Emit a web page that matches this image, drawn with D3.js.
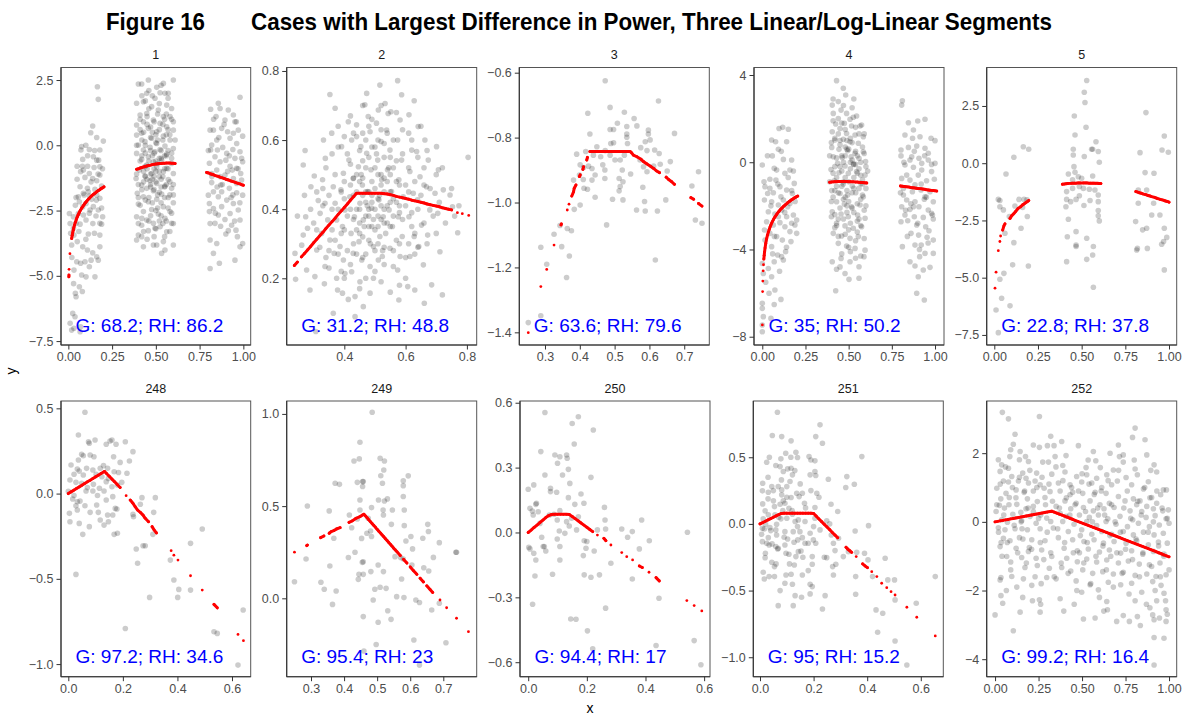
<!DOCTYPE html>
<html>
<head>
<meta charset="utf-8">
<script src="https://cdn.jsdelivr.net/npm/d3@7"></script>
<style>
  body { margin: 0; background: #fff; }
  svg text { font-family: "Liberation Sans", Arial, sans-serif; }
</style>
</head>
<body>
<svg id="chart" width="1183" height="715"></svg>
<script>
// ---- facet identifiers and power scores ----
const panelIds = ["1", "2", "3", "4", "5", "248", "249", "250", "251", "252"];
const gScore  = [68.2, 31.2, 63.6, 35, 22.8, 97.2, 95.4, 94.4, 95, 99.2];
const rhScore = [86.2, 48.8, 79.6, 50.2, 37.8, 34.6, 23, 17, 15.2, 16.4];

// ---- tick values and labels per facet ----
const xTickVals = [
  [0, 0.25, 0.5, 0.75, 1], [0.4, 0.6, 0.8], [0.3, 0.4, 0.5, 0.6, 0.7],
  [0, 0.25, 0.5, 0.75, 1], [0, 0.25, 0.5, 0.75, 1],
  [0, 0.2, 0.4, 0.6], [0.3, 0.4, 0.5, 0.6, 0.7], [0, 0.2, 0.4, 0.6],
  [0, 0.2, 0.4, 0.6], [0, 0.25, 0.5, 0.75, 1]
];
const xTickLabels = [
  ["0.00", "0.25", "0.50", "0.75", "1.00"], ["0.4", "0.6", "0.8"], ["0.3", "0.4", "0.5", "0.6", "0.7"],
  ["0.00", "0.25", "0.50", "0.75", "1.00"], ["0.00", "0.25", "0.50", "0.75", "1.00"],
  ["0.0", "0.2", "0.4", "0.6"], ["0.3", "0.4", "0.5", "0.6", "0.7"], ["0.0", "0.2", "0.4", "0.6"],
  ["0.0", "0.2", "0.4", "0.6"], ["0.00", "0.25", "0.50", "0.75", "1.00"]
];
const yTickVals = [
  [2.5, 0, -2.5, -5, -7.5], [0.2, 0.4, 0.6, 0.8], [-0.6, -0.8, -1.0, -1.2, -1.4],
  [4, 0, -4, -8], [2.5, 0, -2.5, -5, -7.5],
  [0.5, 0, -0.5, -1.0], [1.0, 0.5, 0.0], [0.6, 0.3, 0, -0.3, -0.6],
  [0.5, 0, -0.5, -1.0], [2, 0, -2, -4]
];
const yTickLabels = [
  ["2.5", "0.0", "\u22122.5", "\u22125.0", "\u22127.5"], ["0.2", "0.4", "0.6", "0.8"],
  ["\u22120.6", "\u22120.8", "\u22121.0", "\u22121.2", "\u22121.4"],
  ["4", "0", "\u22124", "\u22128"], ["2.5", "0.0", "\u22122.5", "\u22125.0", "\u22127.5"],
  ["0.5", "0.0", "\u22120.5", "\u22121.0"], ["1.0", "0.5", "0.0"],
  ["0.6", "0.3", "0.0", "\u22120.3", "\u22120.6"],
  ["0.5", "0.0", "\u22120.5", "\u22121.0"], ["2", "0", "\u22122", "\u22124"]
];

// ---- observations (x, y) per facet ----
const p1Points = [
 [0.166,2.24],[0.171,1.76],[0.139,0.74],[0.128,0.48],[0.162,0.30],[0.2,0.16],[0.076,-0.05],[0.072,-0.18],[0.10,0.0],[0.12,-0.16],
 [0.18,-0.18],[0.082,-0.54],[0.173,-0.57],[0.05,-0.8],[0.11,-0.8],[0.086,-0.95],[0.147,-0.85],[0.18,-0.82],[0.12,-1.08],[0.095,-1.23],
 [0.139,-1.27],[0.18,-1.14],[0.162,-1.36],[0.109,-1.65],[0.067,-1.59],[0.152,-1.69],[0.19,-1.56],[0.044,-2.0],[0.057,-1.97],[0.063,-2.16],
 [0.082,-2.35],[0.101,-2.23],[0.12,-1.94],[0.133,-2.07],[0.162,-1.91],[0.18,-2.03],[0.171,-2.48],[0.196,-2.74],[0.158,-2.71],[0.124,-2.48],
 [0.006,-2.61],[0.029,-2.74],[0.044,-2.99],[0.067,-3.02],[0.101,-2.86],[0.18,-2.99],[0.19,-3.02],[0.149,-3.37],[0.18,-3.44],[0.114,-3.4],
 [0.032,-3.44],[0.051,-3.69],[0.019,-3.82],[0.082,-3.89],[0.109,-4.01],[0.162,-4.27],[0.139,-4.12],[0.12,-4.65],[0.095,-4.46],[0.07,-4.52],
 [0.048,-4.46],[0.032,-4.78],[0.076,-4.97],[0.152,-5.04],[0.101,-5.04],[0.063,-5.42],[0.04,-5.67],[0.044,-5.8],[0.025,-6.44],[0.038,-6.57],
 [0.01,-6.82],[0.032,-7.01],[0.067,-7.14],[0.07,-6.95],[0.019,-7.08],[0.057,-2.61],[0.086,-2.67],[0.143,-2.35],[0.114,-1.78],[0.086,-1.84],
 [0.07,-1.01],[0.162,-0.57],[0.143,-0.44],[0.029,-3.18],[0.013,-3.37],[0.18,-3.89],[0.171,-4.4],
 [0.01,-3.0],[0.02,-4.3],[0.04,-2.3],[0.05,-1.3],[0.06,-3.3],[0.08,-0.8],[0.09,-1.9],[0.10,-3.6],[0.11,-0.4],[0.12,-2.6],
 [0.13,-1.4],[0.14,-3.0],[0.15,-0.2],[0.16,-2.1],[0.17,-1.1],[0.19,-2.4],[0.195,-0.9],[0.03,-5.3],[0.08,-5.6],[0.13,-4.4],
 [0.40,2.35],[0.419,2.35],[0.457,2.5],[0.505,2.22],[0.543,2.37],[0.6,2.5],[0.571,1.99],[0.552,1.99],[0.524,2.01],[0.448,1.99],
 [0.495,1.8],[0.429,1.67],[0.39,1.61],[0.476,1.48],[0.562,1.54],[0.59,1.41],[0.514,1.35],[0.448,1.22],[0.41,1.16],[0.543,1.1],
 [0.581,1.1],[0.486,0.97],[0.429,0.9],[0.524,0.84],[0.39,0.78],[0.562,0.71],[0.457,0.65],[0.6,0.58],[0.505,0.52],[0.419,0.46],
 [0.39,0.39],[0.543,0.35],[0.476,0.27],[0.581,0.2],[0.438,0.14],[0.505,0.07],[0.4,0.01],[0.552,-0.03],[0.467,-0.08],[0.6,-0.12],
 [0.429,-0.18],[0.524,-0.16],[0.495,-0.25],[0.39,-0.31],[0.562,-0.34],[0.457,-0.44],[0.59,-0.5],[0.419,-0.54],[0.533,-0.57],[0.486,-0.63],
 [0.448,-0.76],[0.505,-0.82],[0.562,-0.88],[0.406,-0.95],[0.543,-1.01],[0.476,-1.08],[0.6,-1.08],[0.438,-1.18],[0.52,-1.2],[0.387,-1.27],
 [0.571,-1.31],[0.467,-1.36],[0.505,-1.46],[0.419,-1.52],[0.552,-1.56],[0.448,-1.65],[0.59,-1.65],[0.486,-1.74],[0.394,-1.84],[0.533,-1.87],
 [0.429,-1.97],[0.571,-2.0],[0.505,-2.07],[0.457,-2.16],[0.6,-2.2],[0.4,-2.25],[0.543,-2.35],[0.476,-2.46],[0.429,-2.54],[0.581,-2.54],
 [0.514,-2.63],[0.39,-2.74],[0.552,-2.8],[0.448,-2.86],[0.486,-2.99],[0.59,-2.99],[0.419,-3.06],[0.524,-3.12],[0.495,-3.18],[0.457,-3.27],
 [0.562,-3.31],[0.4,-3.44],[0.419,-3.5],[0.543,-3.69],[0.505,-3.82],[0.429,-3.89],[0.39,-3.63],[0.552,-4.01],[0.533,-4.14],[0.6,-3.82],
 [0.486,-3.82],
 [0.41,-0.6],[0.44,-0.3],[0.47,0.3],[0.50,-1.0],[0.53,-0.5],[0.56,0.4],[0.59,-0.7],[0.43,-1.4],[0.46,-2.0],[0.49,-1.2],
 [0.52,-1.8],[0.55,-0.9],[0.58,-1.4],[0.40,-2.0],[0.45,0.8],[0.48,0.5],[0.51,1.2],[0.54,0.2],[0.57,-0.2],[0.60,0.9],
 [0.42,-2.8],[0.47,-1.5],[0.50,-2.5],[0.53,-2.2],[0.56,-2.9],[0.59,-2.6],[0.44,-1.2],[0.48,-0.4],[0.51,-0.7],[0.55,-1.6],
 [0.39,-1.1],[0.41,0.6],[0.46,1.4],[0.52,0.6],[0.57,1.8],[0.60,-1.9],[0.43,-3.3],[0.49,-3.5],[0.54,-3.0],[0.58,-3.3],
 [0.45,-0.9],[0.50,0.1],[0.53,-1.3],[0.56,-0.4],[0.47,-2.7],[0.42,0.2],[0.52,-2.9],[0.49,0.9],[0.55,1.0],[0.44,1.7],
 [0.39,0.0],[0.40,-1.5],[0.41,1.0],[0.41,-2.3],[0.42,-0.4],[0.42,1.9],[0.43,-1.0],[0.43,0.5],[0.44,-2.1],[0.44,0.0],
 [0.45,-1.3],[0.45,1.1],[0.46,-0.6],[0.46,-2.9],[0.47,0.7],[0.47,-1.1],[0.48,-2.2],[0.48,1.9],[0.49,-0.3],[0.49,-1.7],
 [0.50,0.4],[0.50,-1.4],[0.51,-2.4],[0.51,0.2],[0.52,-1.0],[0.52,1.6],[0.53,-0.2],[0.53,-2.7],[0.54,-1.2],[0.54,0.8],
 [0.55,-2.0],[0.55,-0.4],[0.56,1.2],[0.56,-1.5],[0.57,-0.9],[0.57,-2.4],[0.58,0.4],[0.58,-1.9],[0.59,-0.3],[0.59,1.0],
 [0.60,-1.5],[0.60,-3.0],[0.61,0.2],[0.40,-3.0],[0.45,-3.6],[0.50,-3.2],[0.55,-3.5],[0.42,-1.7],[0.47,-0.2],[0.52,-0.5],
 [0.57,0.6],[0.46,2.1],[0.53,2.3],[0.44,-0.8],[0.49,-0.9],[0.51,-1.9],[0.48,-1.3],[0.50,-0.6],[0.47,-1.6],[0.53,-1.6],
 [0.981,1.84],[0.857,1.61],[0.813,1.38],[0.867,1.41],[0.914,1.35],[0.952,0.9],[0.895,0.97],[0.943,1.16],[0.81,0.58],[0.829,0.58],
 [0.876,0.65],[0.971,0.58],[0.996,0.35],[0.924,0.27],[0.848,0.2],[0.962,0.07],[0.819,0.01],[0.882,-0.08],[0.94,-0.16],[0.981,-0.25],
 [0.905,-0.31],[0.838,-0.44],[0.952,-0.5],[0.996,-0.63],[0.867,-0.63],[0.806,-0.69],[0.924,-0.8],[0.962,-0.88],[0.848,-0.95],[0.895,-1.14],
 [0.943,-1.27],[0.99,-1.33],[0.819,-1.43],[0.871,-1.52],[0.92,-1.65],[0.829,-1.78],[0.962,-1.82],[0.8,-1.91],[0.857,-1.97],[0.905,-2.1],
 [0.996,-1.91],[0.943,-2.23],[0.876,-2.35],[0.829,-2.42],[0.971,-2.48],[0.806,-2.54],[0.924,-2.61],[0.857,-2.67],[0.895,-2.84],[0.981,-2.86],
 [0.838,-2.99],[0.933,-3.06],[0.958,-3.25],[0.914,-3.27],[0.966,-3.5],[0.996,-3.76],[0.981,-3.89],[0.81,-3.63],[0.848,-3.76],[0.829,-4.14],
 [0.863,-4.52],[0.81,-4.72],[0.952,-4.4],[0.876,-1.78],[0.819,-1.08],[0.937,-0.95],[0.985,-1.08],[0.852,-0.18],[0.91,0.52],[0.844,1.1],
 [0.962,-1.46],[0.867,-1.2],[0.813,-0.18],[0.943,0.46],[0.9,-0.57],[0.806,-2.23],
 [0.80,-0.2],[0.82,-1.2],[0.84,-2.6],[0.86,0.3],[0.88,-1.5],[0.90,-3.4],[0.92,-0.4],[0.94,-1.9],[0.96,0.9],[0.98,-2.2],
 [0.99,-0.5],[0.83,1.0],[0.87,-3.1],[0.91,-1.0],[0.95,-2.9],[0.97,-0.9],[0.85,-1.6],[0.89,0.8],[0.93,-2.0],[0.81,-3.0]
];
const p2Points = [
 [0.239,0.272],[0.241,0.197],[0.247,0.38],[0.266,0.325],[0.274,0.378],[0.272,0.57],[0.266,0.528],[0.291,0.465],[0.28,0.345],[0.261,0.296],
 [0.277,0.224],[0.288,0.166],[0.332,0.60],[0.338,0.547],[0.329,0.485],[0.321,0.388],[0.326,0.33],[0.31,0.282],[0.337,0.234],[0.335,0.184],
 [0.353,0.732],[0.37,0.692],[0.359,0.62],[0.364,0.465],[0.37,0.417],[0.375,0.369],[0.353,0.311],[0.367,0.272],[0.375,0.2],[0.364,0.099],
 [0.391,0.581],[0.397,0.504],[0.389,0.456],[0.402,0.398],[0.394,0.35],[0.386,0.292],[0.397,0.253],[0.402,0.214],[0.394,0.157],[0.413,0.653],
 [0.424,0.60],[0.415,0.542],[0.429,0.489],[0.418,0.436],[0.433,0.378],[0.422,0.33],[0.429,0.272],[0.424,0.219],[0.413,0.139],[0.435,0.147],
 [0.462,0.118],[0.44,0.644],[0.454,0.581],[0.446,0.523],[0.459,0.47],[0.451,0.417],[0.462,0.369],[0.448,0.306],[0.457,0.253],[0.451,0.19],
 [0.473,0.735],[0.467,0.702],[0.478,0.668],[0.484,0.624],[0.473,0.562],[0.487,0.514],[0.476,0.451],[0.489,0.403],[0.48,0.35],[0.495,0.292],
 [0.484,0.234],[0.495,0.2],[0.484,0.157],[0.516,0.759],[0.511,0.687],[0.505,0.649],[0.52,0.596],[0.509,0.542],[0.522,0.485],[0.513,0.427],
 [0.527,0.378],[0.516,0.321],[0.524,0.263],[0.511,0.253],[0.533,0.706],[0.543,0.677],[0.552,0.682],[0.538,0.629],[0.549,0.571],[0.541,0.514],
 [0.554,0.451],[0.546,0.398],[0.557,0.35],[0.549,0.287],[0.56,0.234],[0.574,0.772],[0.587,0.731],[0.582,0.658],[0.574,0.60],[0.587,0.542],
 [0.578,0.485],[0.592,0.436],[0.576,0.378],[0.589,0.321],[0.582,0.263],[0.574,0.224],[0.578,0.137],[0.607,0.176],[0.611,0.673],[0.62,0.571],
 [0.614,0.509],[0.625,0.446],[0.611,0.378],[0.628,0.321],[0.614,0.263],[0.628,0.714],[0.641,0.639],[0.636,0.567],[0.647,0.494],[0.639,0.427],
 [0.652,0.354],[0.643,0.292],[0.63,0.166],[0.661,0.128],[0.658,0.239],[0.663,0.60],[0.674,0.542],[0.668,0.465],[0.679,0.398],[0.672,0.325],
 [0.685,0.181],[0.701,0.581],[0.707,0.514],[0.696,0.446],[0.705,0.388],[0.712,0.277],[0.72,0.152],[0.723,0.456],[0.745,0.441],[0.753,0.407],
 [0.77,0.332],[0.804,0.55],[0.774,0.41],[0.378,0.166],[0.435,0.089],[0.302,0.496],[0.315,0.425],[0.304,0.205],[0.337,0.417],[0.346,0.369],
 [0.307,0.046],
 [0.42,0.47],[0.44,0.40],[0.46,0.44],[0.48,0.38],[0.50,0.46],[0.52,0.41],[0.54,0.36],[0.56,0.43],[0.58,0.39],[0.45,0.33],
 [0.47,0.52],[0.49,0.58],[0.51,0.35],[0.53,0.49],[0.55,0.55],[0.57,0.31],[0.43,0.30],[0.46,0.26],[0.50,0.28],[0.53,0.24],
 [0.41,0.56],[0.44,0.61],[0.48,0.64],[0.52,0.63],[0.56,0.60],[0.60,0.47],[0.62,0.35],[0.40,0.34],[0.38,0.40],[0.36,0.34],
 [0.47,0.45],[0.51,0.50],[0.55,0.45],[0.49,0.42],[0.45,0.48],[0.53,0.40],[0.57,0.48],[0.43,0.37],[0.59,0.56],[0.61,0.30],
 [0.64,0.40],[0.66,0.47],[0.34,0.26],[0.39,0.22],[0.47,0.20],[0.52,0.19],[0.58,0.18],[0.63,0.27],[0.70,0.33],[0.67,0.57],
 [0.455,0.50],[0.475,0.41],[0.495,0.37],[0.515,0.44],[0.535,0.33],[0.505,0.56],[0.465,0.35],[0.545,0.52],[0.485,0.30],[0.525,0.28],
 [0.30,0.36],[0.31,0.45],[0.32,0.29],[0.33,0.41],[0.34,0.52],[0.35,0.44],[0.35,0.23],[0.36,0.56],[0.37,0.31],[0.37,0.50],
 [0.38,0.27],[0.38,0.58],[0.39,0.45],[0.39,0.33],[0.40,0.61],[0.40,0.48],[0.41,0.28],[0.41,0.38],[0.42,0.53],[0.42,0.24],
 [0.43,0.44],[0.43,0.62],[0.44,0.34],[0.44,0.50],[0.44,0.27],[0.45,0.57],[0.45,0.40],[0.46,0.32],[0.46,0.62],[0.46,0.49],
 [0.47,0.38],[0.47,0.27],[0.48,0.45],[0.48,0.55],[0.48,0.31],[0.49,0.48],[0.49,0.35],[0.49,0.66],[0.50,0.40],[0.50,0.52],
 [0.50,0.22],[0.51,0.60],[0.51,0.43],[0.51,0.30],[0.52,0.50],[0.52,0.37],[0.53,0.55],[0.53,0.45],[0.53,0.29],[0.54,0.41],
 [0.54,0.62],[0.55,0.35],[0.55,0.50],[0.56,0.38],[0.56,0.28],[0.57,0.54],[0.57,0.42],[0.58,0.47],[0.58,0.30],[0.59,0.37],
 [0.59,0.63],[0.60,0.41],[0.60,0.26],[0.61,0.52],[0.61,0.45],[0.62,0.39],[0.62,0.60],[0.63,0.48],[0.63,0.33],[0.64,0.55],
 [0.64,0.29],[0.65,0.44],[0.66,0.36],[0.66,0.52],[0.67,0.30],[0.68,0.46],[0.69,0.38],[0.70,0.50],[0.71,0.42],[0.73,0.36],
 [0.45,0.36],[0.47,0.42],[0.49,0.44],[0.51,0.38],[0.53,0.36],[0.55,0.42],[0.46,0.54],[0.50,0.34],[0.52,0.47],[0.48,0.40],
 [0.43,0.49],[0.54,0.48],[0.56,0.52],[0.42,0.40],[0.58,0.41],[0.44,0.45],[0.50,0.58],[0.47,0.60],[0.53,0.59],[0.40,0.43],
 [0.36,0.40],[0.33,0.46],[0.29,0.40],[0.27,0.44],[0.31,0.34],[0.75,0.46],[0.76,0.38],[0.72,0.52],[0.65,0.64],[0.61,0.62],
 [0.38,0.64],[0.42,0.67],[0.57,0.68],[0.46,0.70],[0.52,0.70],[0.40,0.20],[0.45,0.17],[0.55,0.16],[0.60,0.20],[0.35,0.28]
];
const p3Points = [
 [0.473,-0.625],[0.626,-0.687],[0.487,-0.707],[0.528,-0.722],[0.423,-0.725],[0.508,-0.756],[0.556,-0.741],[0.564,-0.764],[0.597,-0.777],[0.535,-0.766],
 [0.487,-0.775],[0.497,-0.775],[0.672,-0.787],[0.429,-0.789],[0.535,-0.789],[0.535,-0.799],[0.597,-0.789],[0.588,-0.813],[0.449,-0.828],[0.537,-0.818],
 [0.489,-0.818],[0.497,-0.816],[0.602,-0.807],[0.575,-0.831],[0.628,-0.849],[0.615,-0.838],[0.391,-0.851],[0.417,-0.843],[0.439,-0.854],[0.46,-0.859],
 [0.487,-0.854],[0.516,-0.869],[0.501,-0.869],[0.528,-0.854],[0.466,-0.884],[0.401,-0.884],[0.411,-0.892],[0.425,-0.888],[0.583,-0.89],[0.612,-0.888],
 [0.631,-0.882],[0.66,-0.874],[0.651,-0.903],[0.435,-0.895],[0.472,-0.9],[0.522,-0.9],[0.593,-0.905],[0.382,-0.931],[0.399,-0.915],[0.41,-0.929],
 [0.435,-0.931],[0.472,-0.926],[0.513,-0.926],[0.546,-0.912],[0.524,-0.936],[0.412,-0.956],[0.422,-0.959],[0.516,-0.951],[0.513,-0.964],[0.581,-0.953],
 [0.444,-0.984],[0.494,-0.99],[0.524,-0.992],[0.586,-0.997],[0.647,-0.992],[0.401,-1.008],[0.384,-1.021],[0.563,-1.023],[0.623,-1.026],[0.588,-1.026],
 [0.477,-1.069],[0.343,-1.071],[0.376,-1.087],[0.364,-1.08],[0.326,-1.098],[0.348,-1.136],[0.288,-1.138],[0.37,-1.165],[0.305,-1.19],[0.617,-1.177],
 [0.362,-1.231],[0.288,-1.349],[0.252,-1.37],[0.732,-1.054],[0.751,-1.064],[0.722,-0.949],[0.741,-0.905],[0.473,-0.84],[0.444,-0.915],[0.593,-0.84],
 [0.573,-0.869]
];
const p4Points = [
 [0.0,-0.13],[0.054,1.02],[0.077,0.94],[0.097,1.55],[0.118,1.6],[0.151,1.51],[0.093,0.59],[0.141,0.94],[0.122,0.13],[0.17,0.1],
 [0.069,-0.28],[0.044,-0.78],[0.083,-0.36],[0.131,-0.51],[0.16,-0.36],[0.015,-1.12],[0.044,-1.2],[0.102,-1.12],[0.064,-1.4],[0.141,-1.27],
 [0.17,-1.3],[0.185,-0.97],[0.012,-1.73],[0.054,-1.81],[0.093,-1.96],[0.122,-1.73],[0.16,-1.89],[0.035,-2.27],[0.073,-2.37],[0.112,-2.19],
 [0.141,-2.5],[0.18,-2.42],[0.199,-2.65],[0.025,-2.73],[0.064,-2.88],[0.102,-2.77],[0.131,-2.96],[0.189,-2.88],[0.012,-3.11],[0.044,-3.26],
 [0.083,-3.41],[0.16,-3.18],[0.015,-3.57],[0.054,-3.87],[0.089,-4.25],[0.112,-4.33],[0.135,-4.1],[0.122,-4.48],[0.069,-4.56],[0.0,-4.64],
 [0.035,-4.87],[0.054,-5.25],[0.006,-5.1],[0.073,-5.86],[0.039,-6.01],[0.108,-6.29],[0.069,-6.52],[0.0,-6.47],[0.0,-6.7],[0.006,-7.08],
 [0.05,-7.16],[0.0,-7.77],[0.0,-7.46],[0.174,-1.43],[0.031,-1.43],[0.108,-1.58],[0.147,-2.04],[0.093,-2.5],[0.116,-3.57],[0.166,-3.64],
 [0.079,-0.82],[0.199,-3.26],[0.058,0.29],
 [0.01,-0.9],[0.03,0.3],[0.05,-2.0],[0.07,-3.4],[0.09,-1.0],[0.11,0.5],[0.13,-2.3],[0.15,-0.7],[0.17,-2.8],[0.19,-1.8],
 [0.02,-5.5],[0.06,-4.2],[0.10,-5.0],[0.14,-3.9],[0.18,-0.4],
 [0.43,3.74],[0.469,3.39],[0.483,3.08],[0.44,2.78],[0.405,2.62],[0.456,2.39],[0.411,2.24],[0.488,2.24],[0.527,2.06],[0.546,2.12],
 [0.508,1.97],[0.475,1.78],[0.425,1.75],[0.566,1.66],[0.517,1.66],[0.575,1.71],[0.45,1.55],[0.405,1.4],[0.488,1.32],[0.537,1.25],
 [0.585,1.17],[0.42,1.02],[0.469,1.05],[0.508,0.94],[0.556,0.87],[0.402,0.68],[0.444,0.59],[0.494,0.53],[0.537,0.41],[0.585,0.48],
 [0.411,0.25],[0.463,0.22],[0.514,0.25],[0.56,0.18],[0.598,0.03],[0.436,-0.05],[0.479,-0.17],[0.527,-0.08],[0.398,-0.33],[0.444,-0.48],
 [0.498,-0.51],[0.546,-0.43],[0.595,-0.59],[0.417,-0.85],[0.469,-1.0],[0.521,-1.09],[0.571,-0.97],[0.402,-1.3],[0.45,-1.43],[0.494,-1.5],
 [0.541,-1.4],[0.585,-1.58],[0.43,-1.81],[0.475,-1.92],[0.517,-2.04],[0.566,-1.96],[0.405,-2.27],[0.456,-2.37],[0.498,-2.5],[0.552,-2.42],
 [0.595,-2.57],[0.43,-2.8],[0.479,-2.92],[0.527,-3.03],[0.575,-2.96],[0.411,-3.26],[0.459,-3.38],[0.508,-3.49],[0.556,-3.41],[0.44,-3.72],
 [0.488,-3.84],[0.537,-3.95],[0.595,-4.03],[0.405,-4.56],[0.456,-4.41],[0.508,-4.56],[0.56,-4.79],[0.43,-4.91],[0.479,-5.1],[0.502,-5.37],
 [0.56,-5.32],[0.425,-5.89],[0.589,-4.33],
 [0.42,-0.2],[0.46,0.3],[0.50,-0.9],[0.54,-0.1],[0.58,-0.8],[0.41,-1.6],[0.45,-2.1],[0.49,-1.3],[0.53,-2.3],[0.57,-1.7],
 [0.40,0.9],[0.44,1.3],[0.48,0.7],[0.52,0.1],[0.56,-0.3],[0.60,-1.2],[0.43,-0.7],[0.47,-1.7],[0.51,-2.8],[0.55,-3.2],
 [0.59,-2.2],[0.42,-3.0],[0.46,-0.4],[0.50,0.6],[0.54,1.6],[0.58,0.7],[0.44,2.0],[0.48,-3.3],[0.52,-1.4],[0.56,-2.6],
 [0.40,-2.5],[0.47,0.0],[0.51,1.1],[0.55,0.3],[0.59,1.3],[0.43,-1.1],[0.49,-2.0],[0.53,-0.7],[0.57,0.0],[0.45,0.8],
 [0.61,-0.4],[0.39,-0.9],[0.50,-3.9],[0.46,-4.2],[0.54,-4.4],[0.41,1.9],[0.52,2.5],[0.48,1.5],[0.56,-1.2],[0.44,-2.6],
 [0.39,0.3],[0.40,-1.8],[0.41,-0.5],[0.42,1.1],[0.42,-2.4],[0.43,0.2],[0.44,-1.4],[0.44,-3.4],[0.45,-0.2],[0.46,1.8],
 [0.46,-1.1],[0.47,-2.6],[0.48,0.3],[0.48,-0.7],[0.49,1.0],[0.50,-1.8],[0.50,-3.1],[0.51,-0.3],[0.52,0.9],[0.52,-2.1],
 [0.53,-1.2],[0.54,0.5],[0.54,-3.6],[0.55,-0.5],[0.55,-1.9],[0.56,1.3],[0.57,-2.9],[0.57,-0.6],[0.58,-1.5],[0.59,0.4],
 [0.59,-3.5],[0.60,-0.2],[0.60,-2.0],[0.41,2.9],[0.47,2.6],[0.53,2.9],[0.45,-4.8],[0.51,-4.1],[0.57,-4.3],[0.43,-2.9],
 [0.49,-2.3],[0.55,-2.7],[0.47,-0.9],[0.51,0.0],[0.53,-0.1],[0.45,1.0],[0.49,0.6],[0.58,-1.0],[0.42,-1.3],[0.48,-1.6],
 [0.811,2.82],[0.807,2.62],[0.846,1.81],[0.9,1.89],[0.942,1.97],[0.875,1.48],[0.826,1.25],[0.913,1.17],[0.977,1.1],[1.0,0.99],
 [0.803,0.56],[0.846,0.68],[0.894,0.74],[0.942,0.64],[0.803,0.29],[0.865,0.25],[0.907,0.18],[0.961,0.1],[0.826,-0.13],[0.875,-0.23],
 [0.923,-0.36],[0.98,-0.43],[0.807,-0.74],[0.855,-0.82],[0.903,-0.59],[0.951,-0.85],[0.996,-0.78],[0.817,-1.2],[0.869,-1.35],[0.919,-1.27],
 [0.971,-1.35],[0.836,-1.73],[0.884,-1.81],[0.938,-1.7],[0.99,-1.81],[0.807,-2.04],[0.855,-2.16],[0.907,-2.04],[0.961,-2.19],[0.826,-2.42],
 [0.88,-2.5],[0.932,-2.53],[0.985,-2.42],[0.803,-2.73],[0.842,-2.68],[0.894,-2.88],[0.946,-2.96],[0.861,-3.26],[0.965,-3.14],[0.905,-3.34],
 [0.954,-3.44],[0.811,-3.87],[0.884,-3.8],[0.92,-3.8],[0.99,-3.57],[0.911,-4.33],[0.942,-4.18],[0.99,-4.18],[0.855,-4.56],[0.884,-4.76],
 [0.932,-4.94],[0.971,-4.82],[0.903,-5.25],[0.894,-6.01],[0.938,-6.32],[0.923,-0.05],[0.961,0.41],[0.884,-1.04],[0.836,-0.59],[0.942,-1.58],
 [0.875,-2.04],[0.98,-2.34],[0.817,-1.5],[1.0,-0.05],[0.855,0.1],
 [0.80,-1.4],[0.82,0.0],[0.84,-3.4],[0.86,-1.9],[0.88,0.5],[0.90,-2.8],[0.92,-1.0],[0.94,0.3],[0.96,-3.7],[0.98,-0.1],
 [0.83,-2.2],[0.87,1.1],[0.91,-4.0],[0.95,-1.6],[0.99,-2.6]
];
const p5Points = [
 [0.023,-7.4],[0.01,-6.41],[0.042,-5.9],[0.09,-6.23],[0.032,-5.07],[0.055,-4.81],[0.105,-4.44],[0.195,-4.49],[0.112,-3.47],[0.023,-1.58],
 [0.032,-1.63],[0.067,-0.47],[0.112,0.26],[0.166,0.72],[0.197,0.61],[0.052,-2.04],[0.118,-1.87],[0.141,-1.58],[0.162,-1.93],[0.17,-1.58],
 [0.187,-1.6],[0.153,-2.84],[0.189,-2.33],[0.086,-2.33],[0.061,-3.06],[0.032,-1.9],
 [0.529,-4.2],[0.414,-4.3],[0.563,-4.01],[0.567,-5.42],[0.468,-3.57],[0.418,-3.21],[0.529,-3.28],[0.468,-3.64],[0.567,-3.64],[0.468,-2.99],
 [0.424,-2.45],[0.41,-1.9],[0.414,-1.58],[0.437,-1.68],[0.468,-1.58],[0.414,-1.24],[0.448,-1.1],[0.487,-1.02],[0.51,-1.1],[0.544,-1.14],
 [0.576,-1.17],[0.595,-1.39],[0.595,-1.68],[0.595,-2.07],[0.595,-2.3],[0.601,-2.52],[0.513,-1.85],[0.548,-1.63],[0.487,-1.42],[0.424,-0.47],
 [0.456,-0.15],[0.462,-0.4],[0.481,-0.59],[0.5,-0.66],[0.563,-0.56],[0.601,0.04],[0.595,0.51],[0.582,0.94],[0.557,0.61],[0.515,0.29],
 [0.452,0.61],[0.452,0.36],[0.462,1.23],[0.458,2.06],[0.519,2.65],[0.515,3.1],[0.529,3.61],[0.525,1.57],[0.448,-0.73],[0.563,0.61],
 [0.868,2.21],[0.973,1.19],[0.96,0.58],[0.996,0.48],[0.834,0.46],[0.863,-0.41],[0.914,-0.44],[0.824,-1.17],[0.872,-1.17],[0.824,-1.75],
 [0.912,-1.75],[0.901,-2.26],[0.948,-2.26],[0.809,-2.55],[0.849,-2.91],[0.872,-2.84],[0.973,-2.84],[0.987,-3.24],[0.969,-3.42],[0.958,-3.54],
 [0.819,-3.72],[0.815,-3.79],[0.876,-3.72],[0.973,-4.66]
];
const p248Points = [
 [0.061,0.477],[0.037,0.344],[0.074,0.304],[0.098,0.314],[0.077,0.295],[0.139,0.289],[0.153,0.308],[0.16,0.314],[0.175,0.289],[0.209,0.304],
 [0.237,0.246],[0.049,0.23],[0.055,0.222],[0.08,0.226],[0.166,0.216],[0.01,0.168],[0.037,0.197],[0.021,0.113],[0.033,0.144],[0.04,0.132],
 [0.067,0.148],[0.09,0.138],[0.117,0.148],[0.129,0.164],[0.144,0.148],[0.168,0.128],[0.184,0.124],[0.215,0.119],[0.006,0.08],[0.028,0.066],
 [0.049,0.06],[0.07,0.035],[0.092,0.054],[0.114,0.031],[0.139,0.07],[0.16,0.04],[0.18,0.05],[0.196,0.066],[0.0,0.013],[0.021,-0.011],
 [0.043,-0.044],[0.065,0.015],[0.09,0.015],[0.107,-0.011],[0.131,0.015],[0.016,-0.032],[0.033,-0.048],[0.028,-0.071],[0.061,-0.071],[0.104,-0.067],
 [0.139,-0.038],[0.163,-0.018],[0.178,-0.09],[0.172,-0.087],[0.004,-0.116],[0.033,-0.096],[0.08,-0.11],[0.11,-0.11],[0.144,-0.126],[0.163,-0.126],
 [0.006,-0.165],[0.04,-0.175],[0.117,-0.155],[0.131,-0.185],[0.147,-0.165],[0.077,-0.194],[0.053,-0.239],[0.168,-0.239],[0.18,-0.233],[0.239,-0.136],
 [0.27,-0.024],[0.237,-0.122],[0.264,-0.063],[0.313,-0.11],[0.319,-0.024],[0.31,-0.239],[0.249,-0.325],[0.274,-0.306],[0.282,-0.306],[0.254,-0.409],
 [0.374,-0.39],[0.387,-0.507],[0.405,-0.562],[0.401,-0.609],[0.448,-0.292],[0.448,-0.566],[0.491,-0.208],[0.534,-0.81],[0.546,-0.82],[0.298,-0.609],
 [0.209,-0.791],[0.028,-0.474],[0.641,-0.683],[0.622,-1.006],[0.102,0.113],[0.123,0.099],[0.055,0.109],[0.147,0.089],[0.19,0.183],[0.224,0.191],
 [0.094,0.216]
];
const p249Points = [
 [0.485,1.009],[0.448,0.846],[0.43,0.745],[0.446,0.756],[0.509,0.759],[0.522,0.745],[0.52,0.696],[0.511,0.665],[0.594,0.664],[0.579,0.637],
 [0.579,0.611],[0.516,0.624],[0.44,0.629],[0.456,0.633],[0.456,0.606],[0.373,0.624],[0.386,0.618],[0.579,0.552],[0.448,0.533],[0.504,0.533],
 [0.522,0.528],[0.531,0.539],[0.289,0.501],[0.355,0.474],[0.416,0.452],[0.448,0.479],[0.483,0.492],[0.518,0.479],[0.546,0.479],[0.582,0.479],
 [0.44,0.43],[0.473,0.434],[0.48,0.365],[0.453,0.325],[0.469,0.353],[0.519,0.452],[0.543,0.401],[0.582,0.394],[0.587,0.311],[0.602,0.335],
 [0.638,0.326],[0.653,0.401],[0.655,0.362],[0.688,0.302],[0.738,0.25],[0.369,0.326],[0.483,0.335],[0.423,0.383],[0.433,0.25],[0.413,0.221],
 [0.455,0.195],[0.458,0.198],[0.503,0.181],[0.285,0.213],[0.357,0.175],[0.554,0.226],[0.571,0.221],[0.579,0.213],[0.605,0.181],[0.641,0.166],
 [0.656,0.148],[0.67,0.222],[0.607,0.268],[0.445,0.13],[0.458,0.13],[0.481,0.145],[0.519,0.145],[0.25,0.09],[0.33,0.087],[0.34,0.049],
 [0.376,0.04],[0.443,0.103],[0.493,0.049],[0.509,0.06],[0.527,0.054],[0.559,0.009],[0.574,0.105],[0.581,0.004],[0.617,-0.009],[0.628,-0.023],
 [0.688,-0.027],[0.665,-0.063],[0.488,-0.009],[0.365,-0.033],[0.458,-0.099],[0.503,-0.13],[0.532,-0.067],[0.542,-0.114],[0.611,-0.226],[0.708,-0.241],
 [0.497,-0.25],[0.46,-0.286],[0.628,-0.362],[0.74,0.25],[0.458,0.633]
];
const p250Points = [
 [0.057,0.555],[0.171,0.535],[0.15,0.504],[0.222,0.474],[0.157,0.409],[0.043,0.374],[0.091,0.358],[0.108,0.35],[0.131,0.358],[0.133,0.343],
 [0.1,0.32],[0.137,0.292],[0.214,0.255],[0.019,0.22],[0.0,0.2],[0.076,0.204],[0.076,0.189],[0.142,0.227],[0.18,0.178],[0.137,0.161],
 [0.006,0.112],[0.014,0.099],[0.026,0.13],[0.028,0.135],[0.159,0.13],[0.19,0.135],[0.26,0.116],[0.108,0.101],[0.017,0.081],[0.034,0.096],
 [0.072,0.081],[0.088,0.084],[0.099,0.058],[0.171,0.073],[0.387,0.058],[0.131,0.05],[0.04,0.042],[0.262,0.058],[0.14,0.03],[0.165,0.012],
 [0.106,0.007],[0.125,-0.004],[0.236,0.012],[0.264,0.016],[0.319,0.016],[0.355,0.004],[0.543,0.001],[0.046,-0.022],[0.099,-0.03],[0.191,-0.038],
 [0.2,-0.042],[0.339,-0.022],[0.413,-0.038],[0.051,-0.065],[0.055,-0.065],[0.197,-0.073],[0.006,-0.076],[0.002,-0.069],[0.06,-0.086],[0.225,-0.086],
 [0.379,-0.076],[0.019,-0.096],[0.188,-0.107],[0.026,-0.127],[0.108,-0.127],[0.282,-0.142],[0.083,-0.193],[0.023,-0.201],[0.191,-0.196],[0.214,-0.207],
 [0.243,-0.196],[0.355,-0.215],[0.446,-0.304],[0.015,-0.332],[0.264,-0.35],[0.145,-0.4],[0.163,-0.401],[0.202,-0.455],[0.22,-0.538],[0.436,-0.523],
 [0.566,-0.5],[0.589,-0.612],[0.108,-0.065],[0.148,0.066],[0.057,0.266],[0.117,0.266],[0.097,0.186]
];
const p251Points = [
 [0.065,0.838],[0.224,0.743],[0.046,0.663],[0.081,0.655],[0.116,0.623],[0.208,0.655],[0.233,0.605],[0.096,0.53],[0.134,0.538],[0.14,0.498],
 [0.183,0.505],[0.19,0.48],[0.205,0.473],[0.38,0.505],[0.025,0.463],[0.078,0.488],[0.059,0.438],[0.075,0.43],[0.103,0.413],[0.116,0.418],
 [0.087,0.393],[0.205,0.393],[0.121,0.368],[0.187,0.368],[0.208,0.363],[0.324,0.355],[0.255,0.335],[0.01,0.305],[0.044,0.28],[0.068,0.28],
 [0.112,0.318],[0.1,0.28],[0.352,0.298],[0.32,0.273],[0.009,0.248],[0.031,0.238],[0.081,0.255],[0.137,0.23],[0.158,0.23],[0.212,0.23],
 [0.146,0.205],[0.116,0.198],[0.03,0.188],[0.05,0.173],[0.087,0.173],[0.075,0.148],[0.093,0.155],[0.166,0.155],[0.054,0.13],[0.019,0.098],
 [0.108,0.118],[0.205,0.123],[0.265,0.148],[0.031,0.068],[0.056,0.068],[0.121,0.073],[0.29,0.093],[0.012,0.038],[0.078,0.038],[0.1,0.043],
 [0.143,0.03],[0.168,0.018],[0.021,-0.003],[0.062,-0.003],[0.131,0.018],[0.249,0.023],[0.405,-0.013],[0.009,-0.033],[0.016,-0.038],[0.037,-0.028],
 [0.059,-0.045],[0.093,-0.058],[0.124,-0.058],[0.187,-0.07],[0.224,-0.045],[0.355,-0.053],[0.006,-0.078],[0.031,-0.103],[0.062,-0.083],[0.103,-0.113],
 [0.141,-0.12],[0.158,-0.103],[0.199,-0.12],[0.266,-0.083],[0.009,-0.133],[0.025,-0.145],[0.034,-0.158],[0.059,-0.17],[0.093,-0.158],[0.127,-0.138],
 [0.168,-0.145],[0.18,-0.145],[0.208,-0.145],[0.274,-0.145],[0.293,-0.108],[0.068,-0.183],[0.097,-0.22],[0.108,-0.228],[0.143,-0.208],[0.153,-0.203],
 [0.066,-0.188],[0.33,-0.208],[0.361,-0.213],[0.311,-0.245],[0.019,-0.253],[0.044,-0.288],[0.134,-0.245],[0.195,-0.245],[0.249,-0.253],[0.39,-0.22],
 [0.403,-0.27],[0.054,-0.32],[0.128,-0.308],[0.195,-0.303],[0.271,-0.32],[0.283,-0.303],[0.467,-0.258],[0.42,-0.395],[0.357,-0.395],[0.012,-0.363],
 [0.054,-0.395],[0.034,-0.395],[0.016,-0.413],[0.097,-0.383],[0.116,-0.378],[0.158,-0.383],[0.274,-0.383],[0.477,-0.42],[0.502,-0.42],[0.654,-0.395],
 [0.093,-0.445],[0.121,-0.453],[0.187,-0.453],[0.195,-0.47],[0.357,-0.528],[0.131,-0.538],[0.187,-0.525],[0.243,-0.538],[0.068,-0.613],[0.124,-0.613],
 [0.233,-0.638],[0.433,-0.645],[0.458,-0.67],[0.504,-0.57],[0.583,-0.595],[0.439,-0.813],[0.504,-0.878],[0.548,-1.058],[0.081,0.218],[0.149,-0.058],
 [0.205,0.043],
 [0.01,0.15],[0.02,-0.22],[0.03,0.35],[0.04,-0.05],[0.05,0.25],[0.06,-0.3],[0.07,0.05],[0.08,0.33],[0.09,-0.1],[0.10,0.2],
 [0.11,-0.3],[0.12,0.1],[0.13,0.4],[0.14,-0.02],[0.15,0.3],[0.16,-0.25],[0.17,0.12],[0.18,-0.35],[0.19,0.25],[0.20,-0.02],
 [0.22,0.2],[0.24,-0.25],[0.26,0.0],[0.28,-0.2],[0.035,0.5],[0.075,-0.5],[0.115,0.5],[0.155,-0.55],[0.045,-0.15],[0.085,0.1]
];
const p252Points = [
 [0.042,3.19],[0.077,3.0],[0.255,3.07],[0.805,2.73],[0.115,2.55],[0.709,2.24],[0.32,2.49],[0.79,2.46],[0.862,2.39],[0.22,2.24],
 [0.301,2.22],[0.339,2.22],[0.105,2.26],[0.09,2.1],[0.255,2.17],[0.383,2.34],[0.479,2.22],[0.565,2.05],[0.661,2.0],[0.737,1.95],
 [0.872,1.95],[0.144,2.05],[0.019,1.81],[0.038,1.66],[0.077,1.56],[0.14,1.81],[0.192,1.76],[0.274,1.74],[0.307,1.74],[0.389,1.64],
 [0.408,1.93],[0.523,1.58],[0.579,1.78],[0.605,1.58],[0.68,1.51],[0.737,1.74],[0.805,1.54],[0.914,1.66],[0.029,1.47],[0.096,1.32],
 [0.159,1.42],[0.178,1.27],[0.239,1.42],[0.326,1.39],[0.402,1.45],[0.469,1.32],[0.527,1.37],[0.584,1.27],[0.642,1.37],[0.703,1.19],
 [0.753,1.29],[0.818,1.37],[0.881,1.17],[0.929,1.45],[0.048,1.19],[0.077,1.16],[0.134,1.19],[0.192,1.13],[0.23,1.19],[0.259,1.08],
 [0.364,1.13],[0.431,1.08],[0.498,1.16],[0.556,1.13],[0.613,1.0],[0.67,1.08],[0.785,1.08],[0.853,0.96],[0.967,0.93],[0.985,0.93],
 [0.01,0.98],[0.063,0.83],[0.121,0.93],[0.167,0.86],[0.22,0.9],[0.282,0.98],[0.316,0.88],[0.374,0.9],[0.446,0.86],[0.504,0.83],
 [0.575,0.86],[0.638,0.83],[0.709,0.74],[0.795,0.67],[0.833,0.61],[0.9,0.71],[0.952,0.79],[0.033,0.67],[0.082,0.71],[0.186,0.67],
 [0.243,0.59],[0.287,0.71],[0.402,0.61],[0.466,0.54],[0.546,0.61],[0.603,0.5],[0.657,0.54],[0.747,0.61],[0.814,0.5],[0.872,0.45],
 [0.929,0.54],[0.025,0.48],[0.054,0.4],[0.125,0.51],[0.178,0.38],[0.22,0.45],[0.351,0.45],[0.435,0.38],[0.508,0.42],[0.565,0.32],
 [0.626,0.38],[0.684,0.42],[0.776,0.32],[0.843,0.3],[0.91,0.38],[0.964,0.32],[0.996,0.35],[0.006,0.3],[0.102,0.22],[0.148,0.28],
 [0.201,0.16],[0.262,0.2],[0.374,0.25],[0.408,0.16],[0.485,0.2],[0.542,0.13],[0.594,0.2],[0.648,0.09],[0.718,0.16],[0.791,0.06],
 [0.868,0.13],[0.92,0.18],[0.983,0.09],[0.038,0.06],[0.071,-0.01],[0.153,0.03],[0.236,-0.04],[0.32,0.01],[0.389,0.01],[0.454,-0.07],
 [0.527,0.01],[0.584,-0.11],[0.638,0.01],[0.695,-0.07],[0.761,-0.14],[0.824,-0.04],[0.887,-0.14],[0.944,-0.09],[1.0,-0.04],[0.019,-0.17],
 [0.057,-0.23],[0.115,-0.2],[0.186,-0.23],[0.259,-0.2],[0.335,-0.18],[0.421,-0.28],[0.498,-0.23],[0.556,-0.36],[0.613,-0.28],[0.67,-0.36],
 [0.737,-0.28],[0.795,-0.38],[0.853,-0.3],[0.914,-0.38],[0.967,-0.33],[0.048,-0.48],[0.086,-0.55],[0.14,-0.46],[0.211,-0.52],[0.287,-0.55],
 [0.364,-0.46],[0.446,-0.52],[0.511,-0.57],[0.569,-0.52],[0.623,-0.62],[0.684,-0.57],[0.753,-0.62],[0.814,-0.55],[0.881,-0.67],[0.939,-0.59],
 [0.99,-0.62],[0.029,-0.72],[0.121,-0.77],[0.197,-0.75],[0.268,-0.82],[0.397,-0.77],[0.473,-0.84],[0.536,-0.79],[0.6,-0.88],[0.657,-0.82],
 [0.722,-0.91],[0.785,-0.84],[0.849,-0.94],[0.91,-0.86],[0.971,-0.94],[0.067,-1.01],[0.153,-1.04],[0.236,-1.06],[0.326,-1.01],[0.412,-1.06],
 [0.473,-1.16],[0.527,-1.08],[0.584,-1.17],[0.642,-1.11],[0.709,-1.2],[0.766,-1.14],[0.829,-1.23],[0.887,-1.25],[0.948,-1.2],[0.09,-1.17],
 [0.172,-1.33],[0.243,-1.27],[0.312,-1.35],[0.383,-1.33],[0.435,-1.43],[0.504,-1.4],[0.561,-1.5],[0.619,-1.45],[0.68,-1.52],[0.737,-1.47],
 [0.805,-1.56],[0.872,-1.52],[0.925,-1.59],[0.983,-1.54],[0.034,-1.62],[0.096,-1.59],[0.163,-1.66],[0.297,-1.62],[0.351,-1.66],[0.466,-1.72],
 [0.546,-1.83],[0.651,-1.76],[0.722,-1.83],[0.785,-1.79],[0.906,-1.74],[0.954,-1.85],[0.211,-1.85],[0.498,-2.05],[0.594,-1.98],[0.843,-2.05],
 [0.971,-2.08],[0.034,-2.15],[0.159,-2.2],[0.255,-2.27],[0.374,-2.24],[0.642,-2.32],[0.929,-2.3],[0.044,-2.37],[0.262,-2.4],[0.89,-2.5],
 [0.983,-2.56],[0.0,-2.71],[0.259,-2.63],[0.646,-2.56],[0.737,-2.73],[0.818,-2.76],[0.906,-2.71],[0.99,-2.69],[0.699,-2.9],[0.772,-2.9],
 [0.914,-2.85],[0.983,-2.9],[0.508,-2.83],[0.835,-3.02],[0.105,-3.17],[0.914,-3.37],[0.971,-3.39],[0.914,-4.17],[0.144,-2.63],[0.029,-1.69],
 [0.192,-0.86],[0.297,0.11],[0.431,0.79],
 [0.01,0.5],[0.02,-0.3],[0.03,1.1],[0.04,-1.0],[0.05,0.2],[0.06,1.6],[0.07,-0.6],[0.08,0.5],[0.09,-1.4],[0.10,1.0],
 [0.11,-0.1],[0.12,0.7],[0.13,-0.9],[0.14,1.3],[0.15,0.0],[0.16,-0.5],[0.17,0.9],[0.18,-1.2],[0.19,0.4],[0.20,1.5],
 [0.21,-0.8],[0.22,0.3],[0.23,-1.6],[0.24,1.0],[0.25,0.1],[0.26,-0.6],[0.27,1.3],[0.28,-1.1],[0.29,0.5],[0.30,-0.3],
 [0.31,1.1],[0.32,-0.9],[0.33,0.6],[0.34,-1.6],[0.35,1.6],[0.36,-0.2],[0.37,0.4],[0.38,-1.2],[0.39,1.2],[0.40,-0.6],
 [0.41,0.7],[0.42,-1.5],[0.43,0.2],[0.44,1.0],[0.45,-0.9],[0.46,0.5],[0.47,-2.0],[0.48,0.9],[0.49,-0.4],[0.50,1.4],
 [0.51,-1.2],[0.52,0.3],[0.53,-0.6],[0.54,1.1],[0.55,-1.8],[0.56,0.0],[0.57,0.8],[0.58,-1.0],[0.59,0.4],[0.60,-2.2],
 [0.61,0.9],[0.62,-0.7],[0.63,0.2],[0.64,-1.4],[0.65,1.2],[0.66,-0.4],[0.67,0.5],[0.68,-1.9],[0.69,0.0],[0.70,-0.9],
 [0.71,1.5],[0.72,-0.3],[0.73,-1.5],[0.74,0.4],[0.75,-0.8],[0.76,0.9],[0.77,-2.1],[0.78,0.1],[0.79,-1.1],[0.80,1.8],
 [0.81,-0.5],[0.82,0.6],[0.83,-1.6],[0.84,0.2],[0.85,-0.9],[0.86,1.0],[0.87,-2.4],[0.88,-0.3],[0.89,0.7],[0.90,-1.3],
 [0.91,0.0],[0.92,-2.0],[0.93,0.9],[0.94,-0.7],[0.95,-1.6],[0.96,0.4],[0.97,-1.0],[0.98,-2.3],[0.99,0.1],[1.0,-1.4],
 [0.035,-0.6],[0.085,1.9],[0.125,-1.9],[0.175,1.9],[0.265,-1.8],[0.345,1.9],[0.455,-2.4],[0.535,1.8],[0.625,-2.6],[0.715,1.9],
 [0.805,-2.3],[0.895,1.5],[0.945,-2.8],[0.575,-2.8],[0.395,-2.6],[0.215,-2.3],[0.065,-2.0],[0.155,-0.2],[0.485,-0.9],[0.665,-1.0]
];

// ---- fitted three-segment values (x, fitted y) per facet ----
const p1Fit = [
 [0.003,-5.04],[0.0035,-4.97],[0.004,-4.75],[0.009,-4.15],[0.019,-3.57],[0.022,-3.45],[0.025,-3.35],[0.028,-3.25],[0.031,-3.16],[0.035,-3.06],
 [0.04,-2.95],[0.045,-2.85],[0.05,-2.76],[0.055,-2.68],[0.06,-2.61],[0.065,-2.54],[0.07,-2.48],[0.075,-2.42],[0.08,-2.37],[0.085,-2.32],
 [0.09,-2.27],[0.095,-2.22],[0.10,-2.18],[0.105,-2.14],[0.11,-2.10],[0.115,-2.06],[0.12,-2.03],[0.125,-1.99],[0.13,-1.96],[0.135,-1.93],
 [0.14,-1.90],[0.145,-1.87],[0.15,-1.85],[0.155,-1.82],[0.16,-1.79],[0.165,-1.77],[0.17,-1.74],[0.175,-1.72],[0.18,-1.70],[0.185,-1.67],
 [0.19,-1.65],[0.195,-1.63],[0.2,-1.61],[0.204,-1.59],
 [0.39,-0.92],[0.40,-0.90],[0.41,-0.87],[0.42,-0.85],[0.43,-0.83],[0.44,-0.81],[0.45,-0.79],[0.46,-0.77],[0.47,-0.76],[0.48,-0.74],
 [0.49,-0.73],[0.50,-0.72],[0.51,-0.71],[0.52,-0.70],[0.53,-0.70],[0.54,-0.69],[0.55,-0.69],[0.56,-0.68],[0.57,-0.68],[0.58,-0.68],
 [0.59,-0.69],[0.60,-0.69],[0.61,-0.70],
 [0.79,-1.04],[0.80,-1.06],[0.81,-1.09],[0.82,-1.11],[0.83,-1.13],[0.84,-1.16],[0.85,-1.18],[0.86,-1.20],[0.87,-1.23],[0.88,-1.25],
 [0.89,-1.27],[0.90,-1.30],[0.91,-1.32],[0.92,-1.34],[0.93,-1.37],[0.94,-1.39],[0.95,-1.41],[0.96,-1.44],[0.97,-1.46],[0.98,-1.48],
 [0.99,-1.51],[1.00,-1.53]
];
const p2Fit = [
 [0.237,0.237],[0.247,0.247],
 [0.26,0.262],[0.27,0.272],[0.28,0.282],[0.29,0.292],[0.30,0.303],[0.31,0.313],[0.32,0.323],[0.33,0.333],[0.34,0.344],[0.35,0.354],
 [0.36,0.364],[0.37,0.374],[0.38,0.385],[0.39,0.395],[0.40,0.405],[0.41,0.415],[0.42,0.426],[0.43,0.436],[0.44,0.446],
 [0.45,0.446],[0.46,0.446],[0.47,0.446],[0.48,0.446],[0.49,0.446],[0.50,0.446],[0.51,0.446],[0.52,0.446],[0.53,0.445],[0.54,0.444],
 [0.55,0.442],[0.56,0.440],[0.57,0.437],[0.58,0.435],[0.59,0.433],[0.60,0.431],[0.61,0.429],[0.62,0.426],[0.63,0.424],[0.64,0.422],
 [0.65,0.420],[0.66,0.418],[0.67,0.415],[0.68,0.413],[0.69,0.411],[0.70,0.409],[0.71,0.407],[0.72,0.404],[0.73,0.402],[0.74,0.400],
 [0.75,0.398],[0.769,0.390],[0.785,0.387],[0.806,0.382]
];
const p3Fit = [
 [0.252,-1.401],[0.288,-1.259],[0.305,-1.206],[0.326,-1.131],[0.346,-1.069],[0.347,-1.066],[0.364,-1.023],[0.369,-1.005],[0.377,-0.98],[0.382,-0.967],
 [0.384,-0.956],[0.389,-0.946],[0.399,-0.92],[0.401,-0.915],[0.409,-0.898],[0.411,-0.89],[0.42,-0.869],[0.422,-0.861],[0.429,-0.843],
 [0.435,-0.843],[0.44,-0.843],[0.445,-0.843],[0.45,-0.843],[0.455,-0.843],[0.46,-0.843],[0.465,-0.843],[0.47,-0.843],[0.475,-0.843],[0.48,-0.843],
 [0.485,-0.843],[0.49,-0.843],[0.495,-0.843],[0.50,-0.843],[0.505,-0.843],[0.51,-0.843],[0.515,-0.843],[0.52,-0.843],[0.525,-0.843],[0.53,-0.843],
 [0.535,-0.843],[0.54,-0.843],[0.545,-0.843],
 [0.548,-0.846],[0.554,-0.854],[0.564,-0.859],[0.576,-0.867],[0.583,-0.874],[0.593,-0.881],[0.603,-0.888],[0.612,-0.895],[0.621,-0.903],[0.629,-0.908],
 [0.648,-0.922],[0.655,-0.929],[0.664,-0.936],[0.672,-0.944],[0.719,-0.985],[0.727,-0.99],[0.741,-1.003],[0.751,-1.011]
];
const p4Fit = [
 [0.0004,-7.46],[0.0018,-5.93],[0.003,-5.45],[0.005,-4.98],[0.007,-4.7],[0.009,-4.44],[0.011,-4.27],[0.013,-4.12],[0.016,-3.93],[0.02,-3.72],
 [0.025,-3.51],[0.03,-3.34],[0.035,-3.2],[0.04,-3.08],[0.045,-2.97],[0.05,-2.87],[0.055,-2.78],[0.06,-2.7],[0.065,-2.62],[0.07,-2.55],
 [0.075,-2.49],[0.08,-2.43],[0.085,-2.37],[0.09,-2.32],[0.095,-2.27],[0.10,-2.22],[0.105,-2.17],[0.11,-2.13],[0.115,-2.09],[0.12,-2.05],
 [0.125,-2.01],[0.13,-1.98],[0.135,-1.94],[0.14,-1.91],[0.145,-1.87],[0.15,-1.84],[0.155,-1.81],[0.16,-1.78],[0.165,-1.75],[0.17,-1.72],
 [0.175,-1.70],[0.18,-1.67],[0.185,-1.64],[0.19,-1.62],[0.195,-1.60],[0.2,-1.57],[0.205,-1.55],
 [0.39,-0.92],[0.40,-0.91],[0.41,-0.90],[0.42,-0.89],[0.43,-0.89],[0.44,-0.88],[0.45,-0.88],[0.46,-0.88],[0.47,-0.88],[0.48,-0.88],
 [0.49,-0.88],[0.50,-0.89],[0.51,-0.89],[0.52,-0.90],[0.53,-0.90],[0.54,-0.91],[0.55,-0.91],[0.56,-0.92],[0.57,-0.93],[0.58,-0.93],
 [0.59,-0.94],[0.60,-0.95],[0.605,-0.95],
 [0.80,-1.09],[0.81,-1.10],[0.82,-1.11],[0.83,-1.12],[0.84,-1.13],[0.85,-1.14],[0.86,-1.16],[0.87,-1.17],[0.88,-1.18],[0.89,-1.19],
 [0.90,-1.20],[0.91,-1.21],[0.92,-1.22],[0.93,-1.23],[0.94,-1.24],[0.95,-1.26],[0.96,-1.27],[0.97,-1.28],[0.98,-1.29],[0.99,-1.30],
 [1.00,-1.31],[1.01,-1.32]
];
const p5Fit = [
 [0.004,-5.46],[0.01,-4.76],[0.023,-3.82],[0.032,-3.42],[0.036,-3.18],[0.048,-2.92],[0.055,-2.74],[0.061,-2.65],[0.09,-2.41],[0.099,-2.3],
 [0.113,-2.19],[0.122,-2.11],[0.137,-1.97],[0.151,-1.9],[0.162,-1.82],[0.17,-1.78],[0.181,-1.72],[0.189,-1.68],[0.197,-1.63],
 [0.39,-0.92],[0.40,-0.91],[0.41,-0.90],[0.42,-0.89],[0.44,-0.88],[0.45,-0.87],[0.46,-0.87],[0.47,-0.87],[0.48,-0.86],[0.49,-0.86],
 [0.51,-0.86],[0.52,-0.86],[0.53,-0.86],[0.54,-0.87],[0.55,-0.87],[0.56,-0.87],[0.57,-0.87],[0.58,-0.88],[0.59,-0.88],[0.60,-0.89],[0.61,-0.89],
 [0.81,-1.24],[0.82,-1.26],[0.83,-1.29],[0.84,-1.31],[0.85,-1.34],[0.86,-1.36],[0.87,-1.38],[0.88,-1.41],[0.89,-1.43],[0.90,-1.46],
 [0.92,-1.50],[0.93,-1.53],[0.95,-1.58],[0.96,-1.60],[0.97,-1.62],[0.98,-1.65],[0.99,-1.67],[1.0,-1.70]
];
const p248Fit = [
 [0.0,0.0],[0.01,0.01],[0.02,0.02],[0.03,0.03],[0.04,0.039],[0.05,0.049],[0.06,0.059],[0.07,0.069],[0.08,0.078],[0.09,0.088],
 [0.10,0.098],[0.11,0.108],[0.12,0.118],[0.133,0.13],[0.14,0.118],[0.15,0.102],[0.16,0.085],[0.17,0.069],[0.18,0.052],[0.19,0.036],
 [0.212,-0.012],[0.227,-0.038],[0.237,-0.057],[0.245,-0.077],[0.254,-0.097],[0.264,-0.11],[0.274,-0.126],[0.282,-0.145],[0.294,-0.165],[0.307,-0.194],
 [0.315,-0.214],[0.323,-0.231],[0.377,-0.335],[0.387,-0.361],[0.402,-0.39],[0.448,-0.482],[0.491,-0.566],[0.534,-0.65],[0.546,-0.67],[0.622,-0.826],
 [0.642,-0.863]
];
const p249Fit = [
 [0.25,0.25],[0.287,0.286],[0.289,0.289],[0.329,0.329],[0.339,0.338],[0.355,0.353],[0.361,0.362],[0.369,0.367],[0.377,0.376],[0.388,0.383],
 [0.415,0.412],[0.425,0.42],[0.436,0.434],[0.448,0.443],[0.456,0.452],[0.46,0.456],
 [0.465,0.446],[0.47,0.436],[0.475,0.425],[0.48,0.415],[0.485,0.405],[0.49,0.395],[0.495,0.385],[0.50,0.374],[0.505,0.364],[0.51,0.354],
 [0.515,0.344],[0.52,0.334],[0.525,0.323],[0.53,0.313],[0.535,0.303],[0.54,0.293],[0.545,0.283],[0.55,0.272],[0.555,0.262],[0.56,0.252],
 [0.57,0.232],[0.58,0.211],[0.59,0.191],[0.60,0.170],[0.61,0.150],[0.62,0.130],[0.63,0.109],[0.64,0.089],[0.65,0.068],[0.66,0.048],
 [0.668,0.032],[0.69,-0.009],[0.71,-0.051],[0.74,-0.108],[0.776,-0.181]
];
const p250Fit = [
 [0.0,0.0],[0.01,0.011],[0.02,0.023],[0.03,0.034],[0.04,0.046],[0.05,0.057],[0.06,0.069],[0.07,0.078],[0.08,0.083],[0.09,0.084],
 [0.10,0.084],[0.11,0.084],[0.12,0.084],[0.13,0.084],[0.14,0.083],[0.15,0.074],[0.16,0.064],[0.17,0.054],[0.18,0.044],[0.19,0.034],
 [0.20,0.024],[0.21,0.014],[0.22,0.004],[0.236,-0.012],[0.258,-0.027],[0.265,-0.038],[0.282,-0.058],[0.319,-0.093],[0.336,-0.112],[0.356,-0.127],
 [0.379,-0.155],[0.389,-0.162],[0.412,-0.184],[0.436,-0.209],[0.447,-0.224],[0.541,-0.315],[0.566,-0.338],[0.592,-0.363]
];
const p251Fit = [
 [0.0,0.0],[0.01,0.01],[0.02,0.02],[0.03,0.03],[0.04,0.04],[0.05,0.05],[0.06,0.06],[0.07,0.07],[0.08,0.079],[0.09,0.08],
 [0.10,0.08],[0.11,0.08],[0.12,0.08],[0.13,0.08],[0.14,0.08],[0.15,0.08],[0.16,0.08],[0.17,0.08],[0.18,0.08],[0.19,0.08],
 [0.20,0.078],[0.21,0.058],[0.22,0.037],[0.23,0.017],[0.24,-0.003],[0.25,-0.023],[0.26,-0.043],[0.27,-0.064],[0.28,-0.084],[0.29,-0.104],
 [0.321,-0.175],[0.327,-0.188],[0.336,-0.203],[0.342,-0.213],[0.359,-0.245],[0.383,-0.3],[0.392,-0.315],[0.401,-0.328],[0.417,-0.358],[0.436,-0.395],
 [0.454,-0.445],[0.473,-0.478],[0.489,-0.508],[0.504,-0.533],[0.548,-0.625],[0.585,-0.7],[0.654,-0.84]
];
const p252Fit = [
 [0.0,0.0],[0.015,0.014],[0.03,0.029],[0.045,0.043],[0.06,0.057],[0.075,0.071],[0.09,0.086],[0.105,0.1],[0.12,0.114],[0.135,0.128],
 [0.15,0.143],[0.165,0.157],[0.18,0.171],[0.195,0.185],[0.21,0.2],[0.225,0.214],[0.24,0.228],[0.255,0.242],[0.27,0.257],[0.285,0.271],
 [0.30,0.285],[0.315,0.3],[0.326,0.31],
 [0.34,0.282],[0.355,0.253],[0.37,0.223],[0.385,0.194],[0.40,0.164],[0.415,0.135],[0.43,0.105],[0.445,0.076],[0.46,0.046],[0.475,0.016],
 [0.49,-0.013],[0.505,-0.043],[0.52,-0.072],[0.535,-0.102],[0.55,-0.131],[0.565,-0.161],[0.58,-0.19],[0.595,-0.22],[0.61,-0.249],[0.625,-0.279],
 [0.64,-0.309],[0.655,-0.338],[0.67,-0.368],[0.685,-0.397],[0.70,-0.427],[0.715,-0.456],[0.73,-0.486],[0.745,-0.515],[0.76,-0.545],[0.775,-0.575],
 [0.79,-0.604],[0.805,-0.634],[0.82,-0.663],[0.835,-0.693],[0.85,-0.722],[0.865,-0.752],[0.88,-0.781],[0.895,-0.811],[0.91,-0.84],[0.925,-0.87],
 [0.94,-0.9],[0.955,-0.929],[0.97,-0.959],[0.985,-0.988],[1.0,-1.018]
];

const allPoints = [p1Points, p2Points, p3Points, p4Points, p5Points, p248Points, p249Points, p250Points, p251Points, p252Points];
const allFits   = [p1Fit, p2Fit, p3Fit, p4Fit, p5Fit, p248Fit, p249Fit, p250Fit, p251Fit, p252Fit];

// ---- facet frames (pixel box and scale domain of each panel) ----
const frames = [
  { l: 61,    r: 250.7,  t: 67.5, b: 345,   xd: [-0.042, 1.042],   yd: [-7.65, 2.98] },
  { l: 286.7, r: 476.7,  t: 67.5, b: 345,   xd: [0.212, 0.832],    yd: [0.007, 0.81] },
  { l: 519.3, r: 709.3,  t: 67.5, b: 345,   xd: [0.2262, 0.772],   yd: [-1.439, -0.584] },
  { l: 754,   r: 944,    t: 67.5, b: 345,   xd: [-0.048, 1.052],   yd: [-8.38, 4.344] },
  { l: 986.7, r: 1176.7, t: 67.5, b: 345,   xd: [-0.0435, 1.044],  yd: [-7.94, 4.18] },
  { l: 61,    r: 250.7,  t: 401,  b: 676.7, xd: [-0.0268, 0.6686], yd: [-1.074, 0.543] },
  { l: 286.7, r: 476.7,  t: 401,  b: 676.7, xd: [0.2265, 0.801],   yd: [-0.425, 1.07] },
  { l: 520,   r: 710,    t: 401,  b: 676.7, xd: [-0.028, 0.620],   yd: [-0.667, 0.608] },
  { l: 753.3, r: 943.3,  t: 401,  b: 676.7, xd: [-0.025, 0.684],   yd: [-1.146, 0.922] },
  { l: 986.7, r: 1176.7, t: 401,  b: 676.7, xd: [-0.048, 1.044],   yd: [-4.51, 3.52] }
];

const svg = d3.select("#chart");
svg.append("rect").attr("width", 1183).attr("height", 715).attr("fill", "#fff");

// title
svg.append("text").attr("x", 106).attr("y", 30)
  .attr("font-family", "Lato, 'Liberation Sans', sans-serif").attr("font-weight", 700)
  .attr("font-size", 24).attr("fill", "#000")
  .attr("textLength", 99).attr("lengthAdjust", "spacingAndGlyphs")
  .text("Figure 16");
svg.append("text").attr("x", 251).attr("y", 30)
  .attr("font-family", "Lato, 'Liberation Sans', sans-serif").attr("font-weight", 700)
  .attr("font-size", 24).attr("fill", "#000")
  .attr("textLength", 801).attr("lengthAdjust", "spacingAndGlyphs")
  .text("Cases with Largest Difference in Power, Three Linear/Log-Linear Segments");

// axis titles
svg.append("text").attr("x", 590).attr("y", 713).attr("text-anchor", "middle")
  .attr("font-size", 14).attr("fill", "#000").text("x");
svg.append("text").attr("transform", "translate(16,371) rotate(-90)").attr("text-anchor", "middle")
  .attr("font-size", 14).attr("fill", "#000").text("y");

const defs = svg.append("defs");

frames.forEach((f, i) => {
  const x = d3.scaleLinear().domain(f.xd).range([f.l, f.r]);
  const y = d3.scaleLinear().domain(f.yd).range([f.b, f.t]);
  const g = svg.append("g");

  // strip label
  g.append("text").attr("x", (f.l + f.r) / 2).attr("y", f.t - 8.5)
    .attr("text-anchor", "middle").attr("font-size", 12.5).attr("fill", "#1a1a1a")
    .text(panelIds[i]);

  defs.append("clipPath").attr("id", "clip" + i)
    .append("rect").attr("x", f.l).attr("y", f.t).attr("width", f.r - f.l).attr("height", f.b - f.t);

  const plot = g.append("g").attr("clip-path", `url(#clip${i})`);

  // observations
  plot.append("g").selectAll("circle").data(allPoints[i]).join("circle")
    .attr("cx", d => x(d[0])).attr("cy", d => y(d[1])).attr("r", 2.8)
    .attr("fill", "#000").attr("fill-opacity", 0.2);

  // fitted values: contiguous runs joined, every value dotted
  const fit = allFits[i];
  const runs = [];
  let cur = [fit[0]];
  for (let k = 1; k < fit.length; k++) {
    const a = fit[k - 1], b = fit[k];
    const dist = Math.hypot(x(b[0]) - x(a[0]), y(b[1]) - y(a[1]));
    if (dist <= 5) cur.push(b); else { runs.push(cur); cur = [b]; }
  }
  runs.push(cur);
  const line = d3.line().x(d => x(d[0])).y(d => y(d[1]));
  plot.append("g").selectAll("path").data(runs.filter(r => r.length > 1)).join("path")
    .attr("d", line).attr("fill", "none").attr("stroke", "#ff0000")
    .attr("stroke-width", 3).attr("stroke-linecap", "round").attr("stroke-linejoin", "round");
  plot.append("g").selectAll("circle").data(fit).join("circle")
    .attr("cx", d => x(d[0])).attr("cy", d => y(d[1])).attr("r", 1.4).attr("fill", "#ff0000");

  // panel border
  g.append("rect").attr("x", f.l).attr("y", f.t).attr("width", f.r - f.l).attr("height", f.b - f.t)
    .attr("fill", "none").attr("stroke", "#555").attr("stroke-width", 1);

  // axes
  const xa = g.append("g").attr("transform", `translate(0,${f.b})`)
    .call(d3.axisBottom(x).tickValues(xTickVals[i]).tickFormat((d, j) => xTickLabels[i][j])
      .tickSize(4.5).tickPadding(3));
  const ya = g.append("g").attr("transform", `translate(${f.l},0)`)
    .call(d3.axisLeft(y).tickValues(yTickVals[i]).tickFormat((d, j) => yTickLabels[i][j])
      .tickSize(4.5).tickPadding(3));
  [xa, ya].forEach(a => {
    a.select(".domain").attr("stroke", "#333").attr("stroke-width", 1.1);
    a.selectAll(".tick line").attr("stroke", "#333");
    a.selectAll(".tick text").attr("fill", "#4d4d4d").attr("font-size", 12.5)
      .attr("font-family", "'Liberation Sans', Arial, sans-serif");
  });
  xa.select(".domain").attr("d", `M${f.l},0H${f.r}`);
  ya.select(".domain").attr("d", `M0,${f.t}V${f.b}`);

  // power annotation
  g.append("text").attr("x", f.l + 14.5).attr("y", f.b - 13.3)
    .attr("font-size", 19).attr("fill", "#0000ff")
    .text(`G: ${gScore[i]}; RH: ${rhScore[i]}`);
});
</script>
</body>
</html>
